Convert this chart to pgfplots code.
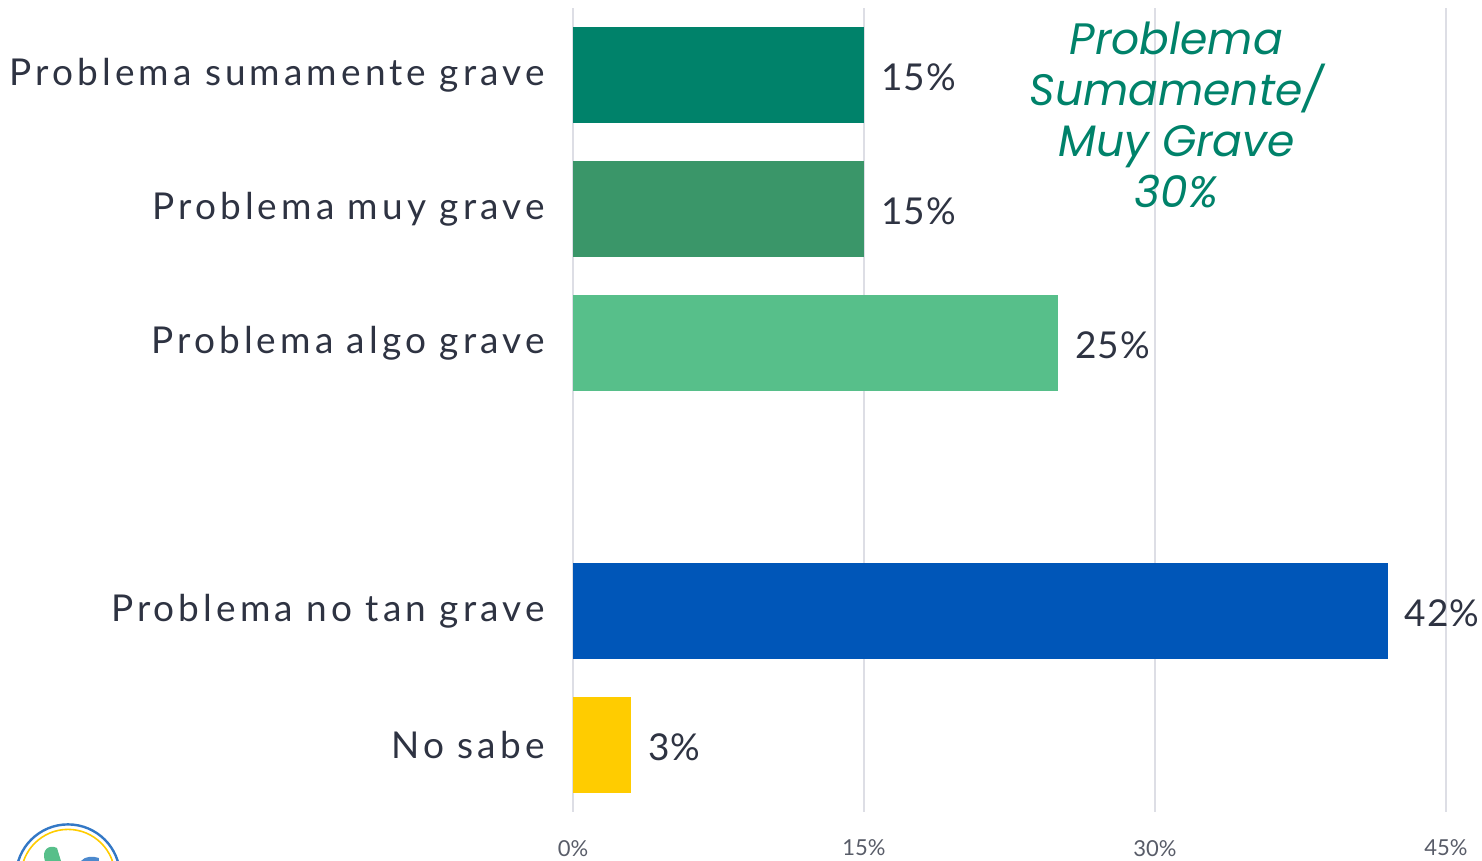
\documentclass[border=0pt]{standalone}
\usepackage{pgfplots}
\pgfplotsset{compat=1.18}
\usepackage{fontspec}
\setmainfont{Lato}[LetterSpace=11]
\newfontfamily\annfont{Poppins}
\newfontfamily\tickfont{Lato}
\newfontfamily\valfont{Lato}[LetterSpace=3]
\definecolor{txt}{HTML}{2E3342}
\definecolor{cSum}{HTML}{00826A}
\definecolor{cMuy}{HTML}{3A9669}
\definecolor{cAlgo}{HTML}{57BF8A}
\definecolor{cNo}{HTML}{0056B8}
\definecolor{cNS}{HTML}{FFCC00}
\definecolor{grid}{HTML}{DDDEE5}
\begin{document}
\begin{tikzpicture}
\useasboundingbox (-286.5pt,-24.5pt) rectangle (454.5pt,406pt);
\begin{scope}
\clip (-286.5pt,-24.5pt) rectangle (454.5pt,406pt);
\draw[color=cNo!80, line width=1.2pt] (-252.5pt,-32.2pt) circle (26pt);
\draw[color=cNS, line width=0.8pt] (-252.5pt,-32.2pt) circle (23.5pt);
\fill[cAlgo] (-264pt,-24.5pt) .. controls (-266pt,-19pt) and (-262pt,-16pt) .. (-258pt,-18pt) -- (-256pt,-24.5pt) -- cycle;
\fill[cNo!70] (-246pt,-24.5pt) .. controls (-244pt,-22pt) and (-240pt,-22pt) .. (-237pt,-23pt) -- (-237pt,-24.5pt) -- cycle;
\end{scope}
\begin{axis}[
  at={(0,0)}, anchor=south west,
  scale only axis, width=436.5pt, height=402pt,
  xbar, bar width=0.716,
  xmin=0, xmax=45, ymin=-0.5, ymax=5.5,
  xtick={0,15,30,45},
  xticklabels={0\%,15\%,30\%,45\%},
  ytick={0,1,3,4,5},
  yticklabels={No sabe, Problema no tan grave, Problema algo grave, Problema muy grave, Problema sumamente grave},
  axis line style={draw=none},
  major tick length=0pt,
  xmajorgrids, ymajorgrids=false,
  grid style={color=grid, line width=0.8pt},
  /pgf/number format/assume math mode=true,
  xticklabel style={font=\tickfont\fontsize{11}{13}\selectfont, text=txt!80, yshift=-10.5pt},
  yticklabel style={font=\fontsize{18.5}{21}\selectfont, text=txt, inner xsep=0pt, xshift=-14pt},
  clip=false,
  nodes near coords={\pgfmathprintnumber{\pgfplotspointmeta}\%},
  point meta=x,
  every node near coord/.append style={font=\valfont\fontsize{18.5}{21}\selectfont, text=txt, anchor=west, xshift=5pt, yshift=-1pt},
]
\addplot[fill=cSum, draw=none, bar shift=0pt] coordinates {(15,5)};
\addplot[fill=cMuy, draw=none, bar shift=0pt] coordinates {(15,4)};
\addplot[fill=cAlgo, draw=none, bar shift=0pt] coordinates {(25,3)};
\addplot[fill=cNo, draw=none, bar shift=0pt] coordinates {(42,1)};
\addplot[fill=cNS, draw=none, bar shift=0pt] coordinates {(3,0)};
\node[align=center, text=cSum, font=\annfont\itshape\fontsize{22}{25.5}\selectfont] at (axis cs:31.1,4.70) {Problema\\Sumamente/\\Muy Grave\\30\%};
\end{axis}
\end{tikzpicture}
\end{document}
